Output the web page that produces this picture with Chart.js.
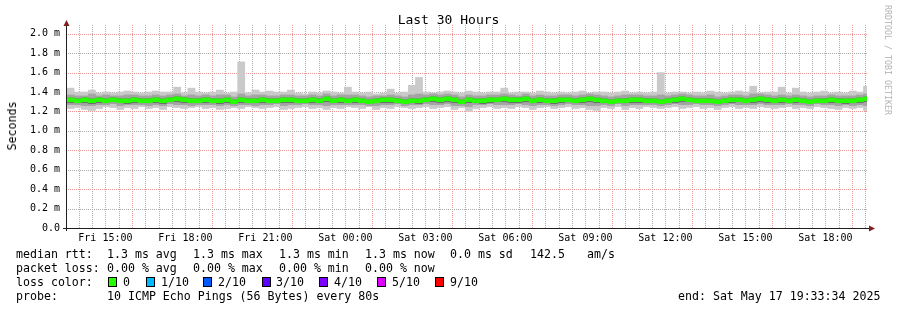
<!DOCTYPE html>
<html><head><meta charset="utf-8">
<script src="https://cdn.jsdelivr.net/npm/chart.js@4/dist/chart.umd.min.js"></script>
<style>
html,body{margin:0;padding:0;background:#fff;}
#wrap{position:relative;width:897px;height:310px;overflow:hidden;font-family:"DejaVu Sans Mono",monospace;color:#000;background:#fff;}
canvas{position:absolute;left:0;top:0;}
.t{position:absolute;white-space:pre;font-size:11.6px;line-height:14px;}
.sq{position:absolute;width:7px;height:8px;border:1px solid #000;}
</style></head>
<body><div id="wrap"><canvas id="c" width="897" height="310"></canvas>
<div class="t" style="left:0;top:12px;width:897px;text-align:center;font-size:13px;line-height:16px;">Last 30 Hours</div>
<div class="t" style="left:11.5px;top:126px;transform:translate(-50%,-50%) rotate(-90deg);">Seconds</div>
<div class="t" style="left:893px;top:5px;transform-origin:0 0;transform:rotate(90deg);font-size:8.3px;line-height:10px;color:#b4b4b4;">RRDTOOL / TOBI OETIKER</div>

<div class="t" style="left:16px;top:247px;">median rtt:</div>
<div class="t" style="left:107px;top:247px;">1.3 ms avg</div>
<div class="t" style="left:193px;top:247px;">1.3 ms max</div>
<div class="t" style="left:279px;top:247px;">1.3 ms min</div>
<div class="t" style="left:365px;top:247px;">1.3 ms now</div>
<div class="t" style="left:450px;top:247px;">0.0 ms sd</div>
<div class="t" style="left:530px;top:247px;">142.5</div>
<div class="t" style="left:587px;top:247px;">am/s</div>

<div class="t" style="left:16px;top:261px;">packet loss:</div>
<div class="t" style="left:107px;top:261px;">0.00 % avg</div>
<div class="t" style="left:193px;top:261px;">0.00 % max</div>
<div class="t" style="left:279px;top:261px;">0.00 % min</div>
<div class="t" style="left:365px;top:261px;">0.00 % now</div>

<div class="t" style="left:16px;top:275px;">loss color:</div>
<div id="lossLegend"></div>

<div class="t" style="left:16px;top:289px;">probe:</div>
<div class="t" style="left:107px;top:289px;">10 ICMP Echo Pings (56 Bytes) every 80s</div>
<div class="t" style="left:678px;top:289px;">end: Sat May 17 19:33:34 2025</div>
</div>
<script>
// ---- data (ms) : one value per 960 s block over the last 30 hours ----
const maxRtt = [
1.44,1.40,1.40,1.42,1.39,1.40,1.39,1.40,1.41,1.40,
1.39,1.40,1.41,1.40,1.40,1.45,1.39,1.44,1.40,1.39,
1.40,1.42,1.39,1.40,1.71,1.39,1.42,1.40,1.41,1.40,
1.40,1.42,1.39,1.38,1.40,1.39,1.41,1.40,1.39,1.45,
1.40,1.39,1.40,1.38,1.39,1.43,1.39,1.40,1.47,1.55,
1.40,1.39,1.40,1.41,1.40,1.39,1.41,1.40,1.39,1.40,
1.40,1.44,1.39,1.40,1.40,1.39,1.41,1.40,1.39,1.40,
1.39,1.40,1.41,1.39,1.40,1.40,1.39,1.40,1.41,1.39,
1.40,1.39,1.40,1.60,1.39,1.40,1.40,1.39,1.40,1.39,
1.41,1.40,1.39,1.40,1.41,1.40,1.46,1.39,1.40,1.40,
1.45,1.39,1.44,1.40,1.39,1.40,1.41,1.39,1.40,1.39,
1.41,1.40,1.46];
const minRtt = [
1.23,1.24,1.22,1.21,1.23,1.25,1.24,1.22,1.24,1.23,
1.25,1.23,1.24,1.22,1.25,1.24,1.23,1.24,1.25,1.23,
1.24,1.22,1.23,1.24,1.23,1.25,1.24,1.23,1.24,1.25,
1.22,1.23,1.24,1.25,1.23,1.24,1.22,1.24,1.23,1.25,
1.24,1.23,1.25,1.22,1.24,1.23,1.25,1.24,1.23,1.24,
1.25,1.23,1.24,1.25,1.22,1.24,1.20,1.23,1.24,1.25,
1.23,1.24,1.23,1.25,1.24,1.22,1.24,1.25,1.23,1.24,
1.25,1.23,1.24,1.22,1.21,1.24,1.23,1.25,1.22,1.24,
1.23,1.25,1.24,1.23,1.24,1.25,1.23,1.24,1.25,1.23,
1.24,1.22,1.24,1.25,1.23,1.24,1.23,1.25,1.24,1.23,
1.24,1.25,1.23,1.24,1.23,1.25,1.24,1.23,1.22,1.24,
1.23,1.24,1.21];
const upperMid = [
1.37,1.36,1.36,1.38,1.36,1.37,1.36,1.36,1.37,1.37,
1.36,1.36,1.37,1.36,1.37,1.38,1.36,1.37,1.36,1.37,
1.36,1.37,1.37,1.35,1.38,1.36,1.37,1.37,1.36,1.36,
1.37,1.37,1.36,1.36,1.37,1.36,1.38,1.36,1.37,1.37,
1.37,1.36,1.35,1.36,1.36,1.37,1.36,1.35,1.37,1.38,
1.37,1.38,1.37,1.38,1.37,1.35,1.37,1.36,1.36,1.37,
1.37,1.38,1.37,1.36,1.38,1.36,1.37,1.36,1.36,1.37,
1.37,1.36,1.37,1.38,1.37,1.36,1.35,1.36,1.37,1.37,
1.37,1.36,1.36,1.37,1.36,1.37,1.38,1.37,1.36,1.36,
1.37,1.35,1.36,1.37,1.37,1.36,1.38,1.38,1.37,1.36,
1.37,1.36,1.37,1.36,1.35,1.36,1.36,1.37,1.36,1.36,
1.36,1.37,1.38];
const lowerMid = [
1.27,1.27,1.26,1.26,1.27,1.27,1.28,1.26,1.27,1.27,
1.27,1.26,1.27,1.26,1.28,1.27,1.27,1.26,1.27,1.27,
1.27,1.26,1.27,1.26,1.27,1.27,1.26,1.27,1.27,1.28,
1.26,1.27,1.27,1.28,1.27,1.27,1.26,1.27,1.27,1.27,
1.27,1.27,1.26,1.26,1.27,1.27,1.28,1.26,1.27,1.27,
1.28,1.27,1.27,1.28,1.26,1.26,1.25,1.27,1.27,1.28,
1.27,1.27,1.27,1.28,1.27,1.26,1.27,1.27,1.26,1.27,
1.28,1.27,1.27,1.26,1.26,1.27,1.26,1.28,1.26,1.27,
1.27,1.27,1.27,1.26,1.27,1.28,1.27,1.27,1.28,1.27,
1.27,1.26,1.27,1.28,1.27,1.27,1.27,1.28,1.27,1.27,
1.27,1.28,1.27,1.27,1.26,1.28,1.27,1.27,1.26,1.27,
1.26,1.27,1.26];
const upperInner = [
1.34,1.33,1.34,1.33,1.34,1.33,1.34,1.33,1.33,1.34,
1.33,1.33,1.34,1.33,1.34,1.35,1.34,1.33,1.33,1.34,
1.33,1.33,1.34,1.32,1.34,1.33,1.33,1.34,1.33,1.33,
1.34,1.34,1.33,1.33,1.34,1.33,1.35,1.33,1.34,1.33,
1.34,1.33,1.32,1.33,1.34,1.34,1.33,1.32,1.33,1.33,
1.34,1.35,1.34,1.35,1.34,1.32,1.34,1.33,1.33,1.34,
1.34,1.35,1.34,1.34,1.35,1.33,1.34,1.33,1.33,1.34,
1.34,1.33,1.34,1.35,1.34,1.33,1.32,1.33,1.33,1.34,
1.34,1.33,1.33,1.32,1.33,1.34,1.35,1.34,1.33,1.33,
1.33,1.32,1.33,1.34,1.34,1.33,1.34,1.35,1.34,1.33,
1.34,1.33,1.34,1.33,1.32,1.33,1.33,1.34,1.33,1.33,
1.33,1.34,1.35];
const lowerInner = [
1.29,1.29,1.29,1.28,1.29,1.29,1.30,1.29,1.28,1.29,
1.29,1.29,1.29,1.28,1.30,1.30,1.29,1.29,1.29,1.29,
1.29,1.28,1.29,1.28,1.29,1.29,1.29,1.29,1.29,1.29,
1.29,1.29,1.29,1.29,1.29,1.29,1.30,1.29,1.29,1.29,
1.29,1.29,1.28,1.29,1.29,1.29,1.29,1.28,1.29,1.28,
1.30,1.30,1.29,1.30,1.29,1.28,1.29,1.29,1.28,1.29,
1.30,1.30,1.29,1.29,1.30,1.29,1.29,1.29,1.28,1.29,
1.30,1.29,1.29,1.30,1.29,1.29,1.28,1.29,1.29,1.29,
1.29,1.29,1.29,1.28,1.29,1.29,1.30,1.30,1.29,1.29,
1.29,1.28,1.29,1.29,1.30,1.29,1.29,1.30,1.29,1.29,
1.29,1.29,1.29,1.29,1.28,1.29,1.29,1.29,1.29,1.28,
1.29,1.29,1.30];
const medianRtt = [
1.32,1.31,1.32,1.31,1.32,1.31,1.32,1.31,1.31,1.32,
1.31,1.31,1.32,1.31,1.32,1.33,1.32,1.31,1.31,1.32,
1.31,1.31,1.32,1.30,1.32,1.31,1.31,1.32,1.31,1.31,
1.32,1.32,1.31,1.31,1.32,1.31,1.33,1.31,1.32,1.31,
1.32,1.31,1.30,1.31,1.32,1.32,1.31,1.30,1.31,1.31,
1.32,1.33,1.32,1.33,1.32,1.30,1.32,1.31,1.31,1.32,
1.32,1.33,1.32,1.32,1.33,1.31,1.32,1.31,1.31,1.32,
1.32,1.31,1.32,1.33,1.32,1.31,1.30,1.31,1.31,1.32,
1.32,1.31,1.31,1.30,1.31,1.32,1.33,1.32,1.31,1.31,
1.31,1.30,1.31,1.32,1.32,1.31,1.32,1.33,1.32,1.31,
1.32,1.31,1.32,1.31,1.30,1.31,1.31,1.32,1.31,1.31,
1.31,1.32,1.33];

const xTickLabels = ['Fri 15:00','Fri 18:00','Fri 21:00','Sat 00:00','Sat 03:00','Sat 06:00','Sat 09:00','Sat 12:00','Sat 15:00','Sat 18:00'];
const yTickLabels = ['0.0','0.2 m','0.4 m','0.6 m','0.8 m','1.0 m','1.2 m','1.4 m','1.6 m','1.8 m','2.0 m'];
const lossLabels = ['0','1/10','2/10','3/10','4/10','5/10','9/10'];
const lossColors = ['#26ff00','#00b8ff','#0059ff','#5e00ff','#7e00ff','#dd00ff','#ff0000'];

// loss color legend
(function(){
  const sqX=[108,146,203,262,319,377,435], txX=[123,161,218,276,334,392,450];
  const box=document.getElementById('lossLegend');
  lossLabels.forEach((l,i)=>{
    const s=document.createElement('div'); s.className='sq';
    s.style.left=sqX[i]+'px'; s.style.top='277px'; s.style.background=lossColors[i]; box.appendChild(s);
    const t=document.createElement('div'); t.className='t';
    t.style.left=txX[i]+'px'; t.style.top='275px'; t.textContent=l; box.appendChild(t);
  });
})();

const blockHours = 960/3600;       // 12 x 80 s consolidation
const spanHours = 30;
const firstGridHour = -(29 + 33/60 + 34/3600); // Fri 14:00 relative to end time
function pts(lo, hi){ return lo.map((v,i)=>({x: -spanHours + (i+0.5)*blockHours, y:[v, hi[i]]})); }
const medBand = medianRtt.map((m,i)=>({x: -spanHours + (i+0.5)*blockHours, y:[m-0.02, m+0.02]}));

const xTicks=[]; for(let k=0;k<60;k++) xTicks.push({value:firstGridHour+0.5*k});
const yTicks=[]; for(let k=0;k<=20;k++) yTicks.push({value:k/10});

const MAJ='rgb(235,149,149)', MIN='rgb(171,171,171)';
const barBase = {borderWidth:0, barPercentage:1, categoryPercentage:1, grouped:false};

const gridPlugin = {
  id:'rrdgrid',
  beforeDatasetsDraw(chart){
    const c=chart.ctx, a=chart.chartArea, xs=chart.scales.x, ys=chart.scales.y;
    const top=Math.round(a.top), bot=Math.round(a.bottom), l=Math.round(a.left), r=Math.round(a.right);
    c.save();
    xs.ticks.forEach((t,i)=>{
      const px=Math.round(xs.getPixelForValue(t.value));
      c.fillStyle=(i%2===0)?MAJ:MIN;
      for(let y=bot-1;y>=top;y-=2) c.fillRect(px,y,1,1);
    });
    ys.ticks.forEach((t,i)=>{
      if(t.value===0) return;
      const py=Math.round(ys.getPixelForValue(t.value));
      c.fillStyle=(i%2===0)?MAJ:MIN;
      for(let x=l+1;x<r;x+=2) c.fillRect(x,py,1,1);
    });
    c.restore();
  }
};

const axesPlugin = {
  id:'axes',
  afterDraw(chart){
    const c=chart.ctx;
    c.save();
    c.fillStyle='#1f1f1f';
    c.fillRect(66,22,1,209);
    c.fillRect(63,228,807,1);
    c.fillStyle='#801f1f';
    c.beginPath(); c.moveTo(63.5,26); c.lineTo(69.5,26); c.lineTo(66.5,20); c.closePath(); c.fill();
    c.beginPath(); c.moveTo(869,225.5); c.lineTo(869,231.5); c.lineTo(875,228.5); c.closePath(); c.fill();
    c.restore();
  }
};

new Chart(document.getElementById('c'), {
  type:'bar',
  data:{ datasets:[
    Object.assign({label:'median', data:medBand, backgroundColor:lossColors[0], order:0}, barBase),
    Object.assign({label:'inner', data:pts(lowerInner, upperInner), backgroundColor:'#6e6e6e', order:1}, barBase),
    Object.assign({label:'mid', data:pts(lowerMid, upperMid), backgroundColor:'#a4a4a4', order:2}, barBase),
    Object.assign({label:'outer', data:pts(minRtt, maxRtt), backgroundColor:'#cacaca', order:3}, barBase)
  ]},
  options:{
    responsive:false, animation:false, devicePixelRatio:1,
    layout:{padding:{left:0,right:30,top:25,bottom:0}},
    plugins:{legend:{display:false}, tooltip:{enabled:false}, title:{display:false}},
    scales:{
      x:{ type:'linear', min:-spanHours, max:0, offset:false,
        afterBuildTicks:s=>{ s.ticks = xTicks.map(t=>({value:t.value})); },
        afterFit:s=>{ s.height = 82; },
        ticks:{ autoSkip:false, maxRotation:0, minRotation:0, padding:4, color:'#000',
          font:{family:'DejaVu Sans Mono', size:10},
          callback:(v,i)=>{ if(i%2===0 && (14+i/2)%3===0){ return xTickLabels[(i-2)/6]; } return ''; } },
        grid:{ display:false, drawTicks:false },
        border:{display:false}
      },
      y:{ type:'linear', min:0, max:2.09,
        afterBuildTicks:s=>{ s.ticks = yTicks.map(t=>({value:t.value})); },
        afterFit:s=>{ s.width = 67; },
        ticks:{ padding:7, color:'#000', font:{family:'DejaVu Sans Mono', size:10},
          callback:(v,i)=> (i%2===0 ? yTickLabels[i/2] : '') },
        grid:{ display:false, drawTicks:false },
        border:{display:false}
      }
    }
  },
  plugins:[gridPlugin, axesPlugin]
});
</script>
</body></html>
